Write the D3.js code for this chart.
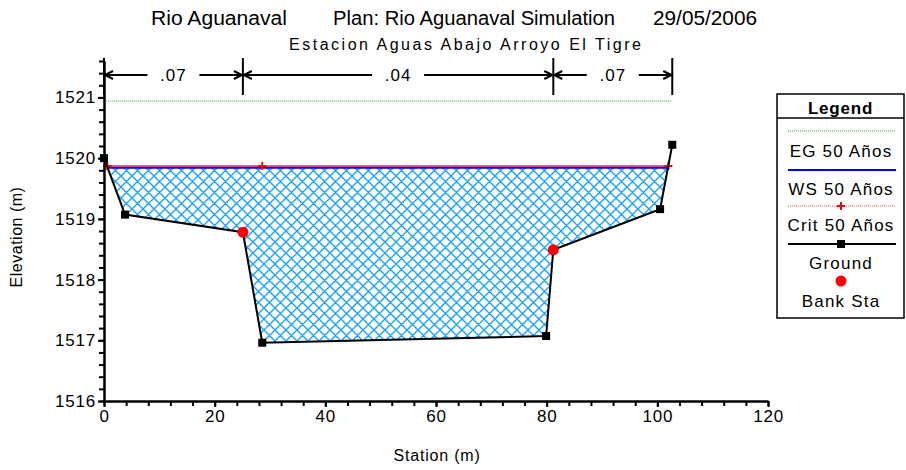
<!DOCTYPE html>
<html>
<head>
<meta charset="utf-8">
<script src="https://cdn.jsdelivr.net/npm/d3@7"></script>
<style>
  body { margin: 0; background: #fff; }
  svg { display: block; font-family: "Liberation Sans", Arial, sans-serif; }
</style>
</head>
<body>
<svg width="906" height="470"></svg>
<script>
// ground profile
var groundSta  = [0, 3.8, 25.1, 28.6, 79.9, 81.2, 100.5, 102.7];
var groundElev = [1520.0, 1519.07, 1518.78, 1516.96, 1517.07, 1518.49, 1519.16, 1520.22];
// bank stations
var bankSta  = [25.1, 81.2];
var bankElev = [1518.78, 1518.49];
// water surface / energy grade / critical
var wsElev = 1519.86;
var wsEdges = [0.57, 101.95];
var egElev = 1520.94;
var egEdges = [0.4, 102.5];
var critElev = 1519.87;
var critSta = [0.6, 28.6, 102.0];
// manning n regions
var nBounds = [0, 25.1, 81.2, 102.7];
var nLabels = [".07", ".04", ".07"];
// ticks
var xTicks = [0, 20, 40, 60, 80, 100, 120];
var yTicks = [1516, 1517, 1518, 1519, 1520, 1521];
var legendItems = ["EG 50 Años", "WS 50 Años", "Crit 50 Años", "Ground", "Bank Sta"];

var svg = d3.select("svg");

var x = d3.scaleLinear().domain([0, 120]).range([104, 768]);
var y = d3.scaleLinear().domain([1516, 1521.6]).range([401, 61]);

// crosshatch pattern
var defs = svg.append("defs");
var pat = defs.append("pattern")
    .attr("id", "hatch")
    .attr("patternUnits", "userSpaceOnUse")
    .attr("width", 11).attr("height", 11);
pat.append("path")
    .attr("d", "M0,0L11,11M11,0L0,11M-1,10L1,12M10,-1L12,1M-1,1L1,-1M10,12L12,10")
    .attr("stroke", "#1aa3ff")
    .attr("stroke-width", 1.4)
    .attr("fill", "none");

// titles
var title = svg.append("g").attr("font-size", 20);
title.append("text").attr("x", 151).attr("y", 25).attr("textLength", 136)
    .attr("lengthAdjust", "spacingAndGlyphs").text("Rio Aguanaval");
title.append("text").attr("x", 333).attr("y", 25).attr("textLength", 282)
    .attr("lengthAdjust", "spacingAndGlyphs").text("Plan: Rio Aguanaval Simulation");
title.append("text").attr("x", 653).attr("y", 25).attr("textLength", 104)
    .attr("lengthAdjust", "spacingAndGlyphs").text("29/05/2006");

svg.append("text")
    .attr("x", 289).attr("y", 50)
    .attr("font-size", 16)
    .attr("textLength", 352)
    .text("Estacion Aguas Abajo Arroyo El Tigre");

// water fill polygon
var waterPoly = [[wsEdges[0], wsElev]];
groundSta.forEach(function(s, i) {
  if (s > wsEdges[0] && s < wsEdges[1]) waterPoly.push([s, groundElev[i]]);
});
waterPoly.push([wsEdges[1], wsElev]);

var line = d3.line().x(function(d) { return x(d[0]); }).y(function(d) { return y(d[1]); });

svg.append("path")
    .attr("d", line(waterPoly) + "Z")
    .attr("fill", "url(#hatch)")
    .attr("stroke", "none");

// EG line
svg.append("path")
    .attr("d", line(egEdges.map(function(s) { return [s, egElev]; })))
    .attr("stroke", "#3aa63a").attr("stroke-width", 1)
    .attr("stroke-dasharray", "1,1").attr("fill", "none");

// Crit line
svg.append("path")
    .attr("d", line(wsEdges.map(function(s) { return [s, critElev]; })))
    .attr("stroke", "#ff3030").attr("stroke-width", 1.5)
    .attr("fill", "none");

// WS line
svg.append("path")
    .attr("d", line(wsEdges.map(function(s) { return [s, wsElev]; })))
    .attr("transform", "translate(0,1)")
    .attr("stroke", "#0000ff").attr("stroke-width", 2)
    .attr("fill", "none");

// crit markers
svg.selectAll(".crit")
  .data(critSta)
  .enter().append("path")
    .attr("class", "crit")
    .attr("transform", function(d) { return "translate(" + x(d) + "," + y(critElev) + ")"; })
    .attr("d", "M-4,0H4M0,-4V4")
    .attr("stroke", "#ff0000").attr("stroke-width", 2);

// ground line
svg.append("path")
    .attr("d", line(groundSta.map(function(s, i) { return [s, groundElev[i]]; })))
    .attr("stroke", "#000").attr("stroke-width", 2).attr("fill", "none");

svg.selectAll(".gpt")
  .data(groundSta)
  .enter().append("rect")
    .attr("class", "gpt")
    .attr("x", function(d) { return x(d) - 4; })
    .attr("y", function(d, i) { return y(groundElev[i]) - 4; })
    .attr("width", 8).attr("height", 8)
    .attr("fill", "#000");

svg.selectAll(".bank")
  .data(bankSta)
  .enter().append("circle")
    .attr("class", "bank")
    .attr("cx", function(d) { return x(d); })
    .attr("cy", function(d, i) { return y(bankElev[i]); })
    .attr("r", 5.5)
    .attr("fill", "#ff0000");

// axes
var fmt = d3.format("d");
var gy = svg.append("g").attr("transform", "translate(104,0)");
gy.call(d3.axisLeft(y).tickValues(d3.range(1516, 1521.61, 0.2)).tickSize(5).tickFormat("").tickSizeOuter(0));
gy.append("g").call(d3.axisLeft(y).tickValues(yTicks).tickSize(6).tickFormat(fmt).tickSizeOuter(0));
gy.selectAll("path.domain").attr("stroke-width", 2);
gy.selectAll("line").attr("stroke-width", 2);
gy.selectAll("text").attr("font-size", 17).attr("letter-spacing", 0.8).attr("fill", "#000")
    .attr("x", -8).attr("font-family", "'Liberation Sans', Arial, sans-serif");

var gx = svg.append("g").attr("transform", "translate(0,401)");
gx.call(d3.axisBottom(x).tickValues(d3.range(0, 120.1, 4)).tickSize(5).tickFormat("").tickSizeOuter(0));
gx.append("g").call(d3.axisBottom(x).tickValues(xTicks).tickSize(6).tickFormat(fmt).tickSizeOuter(0));
gx.selectAll("path.domain").attr("stroke-width", 2);
gx.selectAll("line").attr("stroke-width", 2);
gx.selectAll("text").attr("font-size", 17).attr("letter-spacing", 0.8).attr("fill", "#000")
    .attr("y", 9).attr("font-family", "'Liberation Sans', Arial, sans-serif");

svg.append("text")
    .attr("transform", "translate(22,237) rotate(-90)")
    .attr("text-anchor", "middle").attr("font-size", 16).attr("letter-spacing", 0.5)
    .text("Elevation (m)");
svg.append("text")
    .attr("x", 437).attr("y", 461)
    .attr("text-anchor", "middle").attr("font-size", 16).attr("letter-spacing", 0.8)
    .text("Station (m)");

// manning n bands
var nb = svg.append("g").attr("stroke", "#000").attr("stroke-width", 2);
nBounds.forEach(function(s) {
  nb.append("line").attr("x1", x(s)).attr("x2", x(s)).attr("y1", 58).attr("y2", 95);
});
nLabels.forEach(function(lab, i) {
  var x0 = x(nBounds[i]), x1 = x(nBounds[i + 1]), xm = (x0 + x1) / 2;
  var half = 26;
  nb.append("line").attr("x1", x0).attr("x2", xm - half).attr("y1", 75).attr("y2", 75);
  nb.append("line").attr("x1", xm + half).attr("x2", x1).attr("y1", 75).attr("y2", 75);
  nb.append("path").attr("fill", "none").attr("d", "M" + (x0 + 9) + ",71L" + (x0 + 1) + ",75L" + (x0 + 9) + ",79");
  nb.append("path").attr("fill", "none").attr("d", "M" + (x1 - 9) + ",71L" + (x1 - 1) + ",75L" + (x1 - 9) + ",79");
  svg.append("text").attr("x", xm).attr("y", 81)
      .attr("text-anchor", "middle").attr("font-size", 17).attr("letter-spacing", 1).text(lab);
});

// legend
var lg = svg.append("g");
lg.append("rect").attr("x", 777).attr("y", 94).attr("width", 127).attr("height", 224)
    .attr("fill", "#fff").attr("stroke", "#000").attr("stroke-width", 1.5);
lg.append("line").attr("x1", 777).attr("x2", 904).attr("y1", 118).attr("y2", 118)
    .attr("stroke", "#000").attr("stroke-width", 1.5);
lg.append("text").attr("x", 840.5).attr("y", 114).attr("text-anchor", "middle")
    .attr("font-size", 17).attr("letter-spacing", 0.8).attr("font-weight", "bold").text("Legend");

var lx0 = 788, lx1 = 896, lxm = 841;
lg.append("line").attr("x1", lx0).attr("x2", lx1).attr("y1", 131).attr("y2", 131)
    .attr("stroke", "#3aa63a").attr("stroke-dasharray", "1,1");
lg.append("line").attr("x1", lx0).attr("x2", lx1).attr("y1", 170).attr("y2", 170)
    .attr("stroke", "#0000ff").attr("stroke-width", 2);
lg.append("line").attr("x1", lx0).attr("x2", lx1).attr("y1", 206).attr("y2", 206)
    .attr("stroke", "#ff5050").attr("stroke-dasharray", "1,1");
lg.append("path").attr("d", "M" + (lxm - 4) + ",206H" + (lxm + 4) + "M" + lxm + ",202V210")
    .attr("stroke", "#ff0000").attr("stroke-width", 2);
lg.append("line").attr("x1", lx0).attr("x2", lx1).attr("y1", 244).attr("y2", 244)
    .attr("stroke", "#000").attr("stroke-width", 2);
lg.append("rect").attr("x", lxm - 4).attr("y", 240).attr("width", 8).attr("height", 8).attr("fill", "#000");
lg.append("circle").attr("cx", lxm).attr("cy", 281).attr("r", 5.5).attr("fill", "#ff0000");

var legendY = [157, 195, 231, 269, 307];
legendItems.forEach(function(t, i) {
  lg.append("text").attr("x", lxm).attr("y", legendY[i]).attr("text-anchor", "middle")
      .attr("font-size", 17).attr("letter-spacing", 1.2).text(t);
});
</script>
</body>
</html>
